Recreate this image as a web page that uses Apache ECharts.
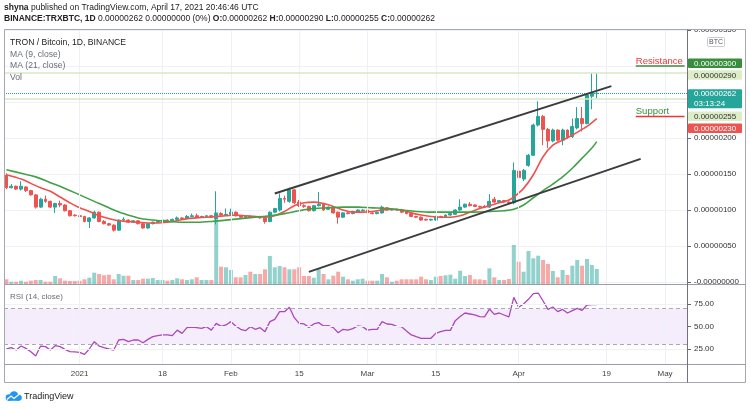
<!DOCTYPE html>
<html><head><meta charset="utf-8">
<script src="https://cdn.jsdelivr.net/npm/echarts@6/dist/echarts.min.js"></script>
<style>html,body{margin:0;padding:0;background:#fff}#c{width:750px;height:409px}</style>
</head><body><div id="c"></div>
<script>
// ---------- data (prices in satoshi, 1 = 0.00000001 BTC) ----------
const startDate = '2020-12-17';
const dayCount = 140;
const tickLabels = [['2021-01-01','2021'],['2021-01-18','18'],['2021-02-01','Feb'],['2021-02-15','15'],['2021-03-01','Mar'],['2021-03-15','15'],['2021-04-01','Apr'],['2021-04-19','19'],['2021-05-01','May']];
const opens = [148,131,133,129,132,127,121,104,115,112,
 104,109,107,99,93,92,91,84,89,97,
 84,81,79,72,86,86,83,85,81,75,
 81,83,84,86,85,87,89,88,91,92,
 90,91,92,88,95,93,94,97,92,90,
 91,90,91,89,84,97,100,116,112,128,
 111,106,105,99,106,108,101,103,97,90,
 96,95,97,99,100,96,95,96,103,100,
 101,100,98,95,91,90,87,86,86,91,
 90,93,94,100,104,108,107,105,105,104,
 115,111,113,111,110,154,143,162,176,218,
 230,212,196,211,197,211,202,214,227,220,258,262];
const closes = [131,133,129,133,127,121,104,115,112,104,
 109,107,99,92,92,91,84,89,97,84,
 81,79,72,86,87,83,85,81,75,81,
 83,84,86,85,87,89,88,91,92,90,
 91,92,90,95,93,94,97,92,90,91,
 90,91,89,84,97,102,116,115,128,110,
 106,105,99,106,108,100,104,96,90,96,
 95,98,100,100,96,95,97,104,100,101,
 100,97,95,91,90,86,86,87,91,90,
 93,95,100,104,108,106,105,104,104,112,
 111,113,111,110,155,145,155,176,218,230,
 212,196,211,197,211,201,216,227,220,260,262,262];
const highs = [151,136,134,140,133,128,122,117,120,113,
 110,113,108,100,94,93,92,90,99,98,
 86,82,80,87,90,87,86,86,82,82,
 84,85,87,87,88,91,90,93,95,95,
 92,93,93,126,97,102,102,98,93,93,
 92,92,92,90,98,103,123,120,131,129,
 114,108,106,107,125,110,105,104,98,97,
 97,99,101,101,101,97,98,106,104,102,
 102,101,99,96,92,91,88,88,92,92,
 94,96,101,115,109,111,108,106,107,122,
 118,114,114,112,166,158,157,178,220,251,
 232,214,213,212,213,212,227,243,243,262,290,290];
const lows = [129,130,128,127,125,120,102,103,110,103,
 96,104,98,91,91,90,83,75,88,83,
 80,78,70,71,84,82,82,80,74,74,
 80,82,83,84,84,85,87,87,90,89,
 89,90,89,80,92,92,93,91,89,88,
 89,89,88,81,83,96,98,110,110,108,
 104,103,98,98,105,99,100,95,81,89,
 94,94,96,98,95,94,94,95,99,99,
 99,96,94,90,89,85,85,85,85,89,
 89,92,93,99,103,105,104,103,103,103,
 110,110,110,108,108,141,140,160,175,216,
 190,186,194,195,190,199,200,212,209,219,240,255];
const volumes = [4.7,2.3,2.3,3.3,2.3,3.3,4,4,2.3,2.3,
 8,5.7,3.3,3,3,3.3,4.7,6.3,11.3,10,
 8.7,9.3,4.7,10,8.3,8.3,4,4,5.3,5.3,
 6,4,4,3.3,4,5.7,4.7,4,4.7,6.7,
 4,4,4,72,17.3,16.7,14,6.7,6.7,9,
 12.3,10,10,14.7,28,16.7,18,16.7,14.7,14.7,
 16.7,8,8,6.3,14.7,10,4.7,8.3,12.3,7.3,
 4.7,3.3,4.7,5.3,3.3,3.3,3.3,10,6.7,2.3,
 3.3,4.7,4.7,4.7,4.7,7.3,4.7,4,7.3,8,
 8.7,9.3,5.3,13.3,8,9,4.7,4.7,4,15.7,
 6.7,4,4,5,39,22.3,12.3,33,25.7,28.3,
 24,20,13,6.7,14,9,18.3,24,18.3,25,19,15];
const rsi = [25,26.5,23.9,28.3,25.7,22,17.2,28.3,27.6,23.9,
 28.7,27.6,24.6,22,21.7,21.3,19,25,33.1,28.3,
 26.5,25,23.9,35,35.7,33.1,35,35,32,35.7,
 38.7,39.8,40.6,40.6,39.8,46,42.4,48.7,49.4,48.7,
 48,49.8,46,53.5,50.2,51.7,55.4,50.6,46.9,45.4,
 49.8,46.9,48.7,44.3,55.4,58,66.5,66.5,71.3,59.8,
 53.5,52.8,49,52.8,54.3,50.6,51,48.7,43.1,46.9,
 46,47.6,50.6,49.8,46,46.9,46.9,55.4,52.8,52.4,
 50.2,49.8,45,40.6,38.7,36.9,36.9,36.9,42.4,44.3,
 45.7,45.7,56.5,61,65,63.9,62.8,61,60.6,69.4,
 63.5,65,62.8,60.6,82.4,71.3,75,80.2,86.5,87.2,
 78.3,69,71.7,66.5,69,65,67.6,70.2,68,73.9,74.3,74.3];
// moving averages: [candle index, value]
const ma9Points = [[0,149],[3,143],[5,137],[7,131],[9,126],[11,118],[13,110],[15,103],[17,98],[19,92],[21,88],[23,85],[25,84],[27,83],[29,82],[31,82],[33,83],[35,85],[37,88],[39,89],[41,90],[43,91],[45,92],[47,93],[49,92],[51,91],[53,90],[55,92],[57,98],[59,106],[61,110],[63,111],[65,109],[67,105],[69,100],[71,97],[73,97],[75,98],[77,100],[79,101],[81,100],[83,96],[85,93],[87,91],[89,90],[91,90],[93,92],[95,97],[97,102],[99,106],[101,110],[103,114],[104,118],[106,130],[108,149],[110,174],[112,190],[114,197],[116,204],[118,212],[119,216],[121,227]];
const ma21Points = [[0,156],[3,151],[6,146],[9,138],[12,130],[15,121],[18,112],[21,103],[24,95],[27,89],[30,86],[33,84],[36,83],[39,83],[42,84],[45,86],[48,88],[51,90],[54,92],[57,95],[60,99],[63,102],[66,103],[69,104],[72,104],[75,103],[78,102],[81,100],[84,98],[87,97],[90,97],[93,97],[96,97],[99,98],[102,99],[104,101],[106,107],[108,117],[110,127],[112,136],[114,146],[116,158],[118,172],[120,186],[121,195]];
const channelUpper = [['2021-02-10',123],['2021-04-20',272]];
const channelLower = [['2021-02-17',14],['2021-04-26',171]];
const resistanceLevel = 300;
const supportLevel = 230;
const levelStart = '2021-04-25';
const countdown = '03:13:24';

// ---------- build ----------
const F = "'Liberation Sans', Arial, sans-serif";
const dates = [];
{ const d0 = Date.parse(startDate + 'T00:00:00Z'); for (let i = 0; i < dayCount; i++) dates.push(new Date(d0 + i * 864e5).toISOString().slice(0, 10)); }
const tickMap = new Map(tickLabels);
const last = closes.length - 1;
const fmt = v => (v / 1e8).toFixed(8);
const UP = '#26a69a', DN = '#ef5350';

const hiddenX = (gi) => ({type:'category', gridIndex:gi, data:dates, boundaryGap:true,
  axisLine:{show:false}, axisTick:{show:false}, axisLabel:{show:false}, splitLine:{show:false}});

const levelSeries = (level, lineColor, text, textColor) => ({
  type:'line', xAxisIndex:0, yAxisIndex:0, z:5, symbol:'circle', symbolSize:0, showSymbol:true,
  lineStyle:{color:lineColor, width:1.5}, itemStyle:{color:lineColor},
  label:{show:false},
  data:[{value:[levelStart, level], label:{show:true, formatter:text, position:'top', align:'left', distance:0, color:textColor, fontSize:9.5, fontFamily:F}},
        {value:[dates[dayCount-1], level], label:{show:false}}]
});

const option = {
  animation:false,
  textStyle:{fontFamily:F},
  title:[
    {left:4, top:3, padding:0, text:'{b|shyna} published on TradingView.com, April 17, 2021 20:46:46 UTC',
     textStyle:{fontSize:8.5, fontWeight:'normal', color:'#222', fontFamily:F, rich:{b:{fontSize:8.5, fontWeight:'bold', color:'#222', fontFamily:F}}}},
    {left:4, top:14.5, padding:0,
     text:'{b|BINANCE:TRXBTC, 1D} ' + fmt(closes[last]) + ' ' + fmt(closes[last]-closes[last-1]) + ' (' + (Math.round((closes[last]-closes[last-1])/closes[last-1]*10000)/100) + '%) {b|O:}' + fmt(opens[last]) + ' {b|H:}' + fmt(highs[last]) + ' {b|L:}' + fmt(lows[last]) + ' {b|C:}' + fmt(closes[last]),
     textStyle:{fontSize:8.5, fontWeight:'normal', color:'#222', fontFamily:F, rich:{b:{fontSize:8.5, fontWeight:'bold', color:'#222', fontFamily:F}}}}
  ],
  grid:[
    {left:4, right:63, top:30, height:252},
    {left:4, right:63, top:30, height:254},
    {left:4, right:63, top:281.5, height:90},
    {left:4, right:63, top:30, height:334}
  ],
  xAxis:[hiddenX(0), hiddenX(1), hiddenX(2),
    {type:'category', gridIndex:3, data:dates, boundaryGap:true,
     axisLine:{show:false}, axisTick:{show:false}, splitLine:{show:false},
     axisLabel:{show:true, interval:(i, v) => tickMap.has(v), formatter:v => tickMap.get(v) || '', fontSize:8, color:'#444', fontFamily:F, margin:6}}
  ],
  yAxis:[
    {type:'value', gridIndex:0, position:'right', min:0, max:350, interval:50,
     axisLine:{show:false}, axisTick:{show:true, length:4, lineStyle:{color:'#666'}},
     axisLabel:{fontSize:8, color:'#333', fontFamily:F, margin:7,
       formatter:v => (v === 250 || v === 300) ? '' : (v === 0 ? '-0.00000000' : fmt(v))},
     splitLine:{lineStyle:{color:'#eef1f6'}}},
    {type:'value', gridIndex:1, min:0, max:254, show:false, splitLine:{show:false}},
    {type:'value', gridIndex:2, position:'right', min:0, max:100, interval:25,
     axisLine:{show:false}, axisTick:{show:true, length:4, lineStyle:{color:'#666'}, customValues:[25,50,75]},
     axisLabel:{fontSize:8, color:'#333', fontFamily:F, margin:7, customValues:[25,50,75],
       formatter:v => (v === 0 || v === 100) ? '' : v.toFixed(2)},
     splitLine:{show:false}},
    {type:'value', gridIndex:3, min:0, max:1, show:false, splitLine:{show:false}}
  ],
  series:[
    {type:'line', xAxisIndex:3, yAxisIndex:3, data:[], z:1, silent:true,
     markLine:{silent:true, symbol:['none','none'], label:{show:false},
       lineStyle:{color:'#edf0f5', type:'solid', width:1},
       data:tickLabels.map(t => ({xAxis:t[0]}))}},
    {type:'bar', xAxisIndex:1, yAxisIndex:1, barWidth:4, z:2,
     data:volumes.map((v, i) => ({value:v, itemStyle:{color: closes[i] >= opens[i] ? 'rgba(38,166,154,0.5)' : 'rgba(239,83,80,0.5)'}}))},
    {type:'candlestick', xAxisIndex:0, yAxisIndex:0, barWidth:3.4, z:3,
     itemStyle:{color:UP, color0:DN, borderColor:UP, borderColor0:DN, borderWidth:1},
     data:opens.map((o, i) => [o, closes[i], lows[i], highs[i]]),
     markLine:{silent:true, symbol:['none','none'], label:{show:false},
       data:[
         {yAxis:highs[last], lineStyle:{color:'#d6e8c4', width:1.5, type:'solid'}},
         {yAxis:lows[last], lineStyle:{color:'#d6e8c4', width:1.5, type:'solid'}},
         {yAxis:closes[last], lineStyle:{color:UP, width:1, type:'dotted'}}
       ]}},
    {type:'line', xAxisIndex:0, yAxisIndex:0, z:4, smooth:0.35, symbol:'none',
     lineStyle:{color:'#f0514e', width:1.6}, data:ma9Points.map(p => [dates[p[0]], p[1]])},
    {type:'line', xAxisIndex:0, yAxisIndex:0, z:4, smooth:0.35, symbol:'none',
     lineStyle:{color:'#43a047', width:1.6}, data:ma21Points.map(p => [dates[p[0]], p[1]])},
    {type:'line', xAxisIndex:0, yAxisIndex:0, z:5, symbol:'none',
     lineStyle:{color:'#3c3c3c', width:2}, data:channelUpper},
    {type:'line', xAxisIndex:0, yAxisIndex:0, z:5, symbol:'none',
     lineStyle:{color:'#3c3c3c', width:2}, data:channelLower},
    levelSeries(resistanceLevel, '#388e3c', 'Resistance', '#e53935'),
    levelSeries(supportLevel, '#e53935', 'Support', '#388e3c'),
    {type:'line', xAxisIndex:2, yAxisIndex:2, z:3, symbol:'none',
     lineStyle:{color:'#ab47bc', width:1.3}, data:rsi,
     markArea:{silent:true, itemStyle:{color:'rgba(170,90,230,0.11)'}, data:[[{yAxis:30},{yAxis:70}]]},
     markLine:{silent:true, symbol:['none','none'], label:{show:false},
       data:[
         {yAxis:75, lineStyle:{color:'#eef1f6', width:1, type:'solid'}},
         {yAxis:50, lineStyle:{color:'#eef1f6', width:1, type:'solid'}},
         {yAxis:25, lineStyle:{color:'#eef1f6', width:1, type:'solid'}},
         {yAxis:70, lineStyle:{color:'#a9a9b6', width:1, type:[4,3]}},
         {yAxis:30, lineStyle:{color:'#a9a9b6', width:1, type:[4,3]}}
       ]}}
  ]
};

const chart = echarts.init(document.getElementById('c'), null, {renderer:'canvas'});
chart.setOption(option);

// ---------- decorations ----------
const yOf = v => chart.convertToPixel({yAxisIndex:0}, v);
const txt = (x, y, text, size, color, extra) => Object.assign({type:'text', x:x, y:y, z:50,
  style:Object.assign({text:text, fontSize:size, fontFamily:F, fill:color, align:'left', verticalAlign:'middle', textAlign:'left', textVerticalAlign:'middle'}, extra || {})});
const ln = (x1, y1, x2, y2, color, w) => ({type:'line', z:40, shape:{x1:x1, y1:y1, x2:x2, y2:y2}, style:{stroke:color, lineWidth:w || 1}});

const g = [];
g.push({type:'rect', z:30, shape:{x:688, y:20, width:60, height:9.5}, style:{fill:'#fff'}});
g.push({type:'rect', z:40, shape:{x:4.5, y:29.5, width:741, height:353}, style:{fill:'none', stroke:'#a5a8b0', lineWidth:1}});
g.push(ln(4.5, 284.5, 745.5, 284.5, '#9a9da6'));
g.push(ln(4.5, 364.5, 745.5, 364.5, '#9a9da6'));
g.push(ln(687.5, 29.5, 687.5, 382.5, '#6f727b'));
g.push(txt(10, 43, 'TRON / Bitcoin, 1D, BINANCE', 8.6, '#222'));
g.push(txt(10, 54.5, 'MA (9, close)', 8.6, '#6a6d78'));
g.push(txt(10, 66, 'MA (21, close)', 8.6, '#6a6d78'));
g.push(txt(10, 77.5, 'Vol', 8.6, '#6a6d78'));
g.push(txt(10, 297, 'RSI (14, close)', 8, '#6a6d78'));
g.push({type:'rect', z:45, shape:{x:707.5, y:37.5, width:17, height:9, r:1}, style:{fill:'#fff', stroke:'#c8cad0', lineWidth:1}});
g.push(txt(716, 42, 'BTC', 7, '#555', {align:'center', textAlign:'center'}));
const tags = [
  {v:resistanceLevel, bg:'#388e3c', fg:'#fff', dy:-2.7},
  {v:highs[last], bg:'#dcedc8', fg:'#333', dy:1.8},
  {v:closes[last], bg:UP, fg:'#fff', dy:0.6, sub:countdown},
  {v:lows[last], bg:'#dcedc8', fg:'#333', dy:18},
  {v:supportLevel, bg:'#ef5350', fg:'#fff', dy:12}
];
tags.forEach(t => {
  const cy = yOf(t.v) + t.dy;
  const h = t.sub ? 19 : 9.5;
  g.push({type:'rect', z:45, shape:{x:688, y:cy - 4.8, width:54, height:h, r:1}, style:{fill:t.bg}});
  g.push(ln(688, cy + 0.5, 692, cy + 0.5, t.fg));
  g.push(txt(694, cy + 0.3, fmt(t.v), 8, t.fg, {z:50}));
  if (t.sub) g.push(txt(694, cy + 10, t.sub, 8, t.fg));
});
g.push({type:'circle', z:50, shape:{cx:9, cy:397.5, r:3.3}, style:{fill:'#2196f3'}});
g.push({type:'circle', z:50, shape:{cx:14, cy:395.5, r:4.3}, style:{fill:'#2196f3'}});
g.push({type:'circle', z:50, shape:{cx:18.8, cy:397.8, r:3}, style:{fill:'#2196f3'}});
g.push({type:'rect', z:50, shape:{x:8, y:397, width:11, height:3.8}, style:{fill:'#2196f3'}});
g.push({type:'polyline', z:51, shape:{points:[[7,399.5],[11,396],[14,398.5],[19.5,394]]}, style:{stroke:'#fff', lineWidth:1.2, fill:'none'}});
g.push(txt(24, 396.5, 'TradingView', 9, '#222'));

chart.setOption({graphic:{elements:g}});
</script>
</body></html>
